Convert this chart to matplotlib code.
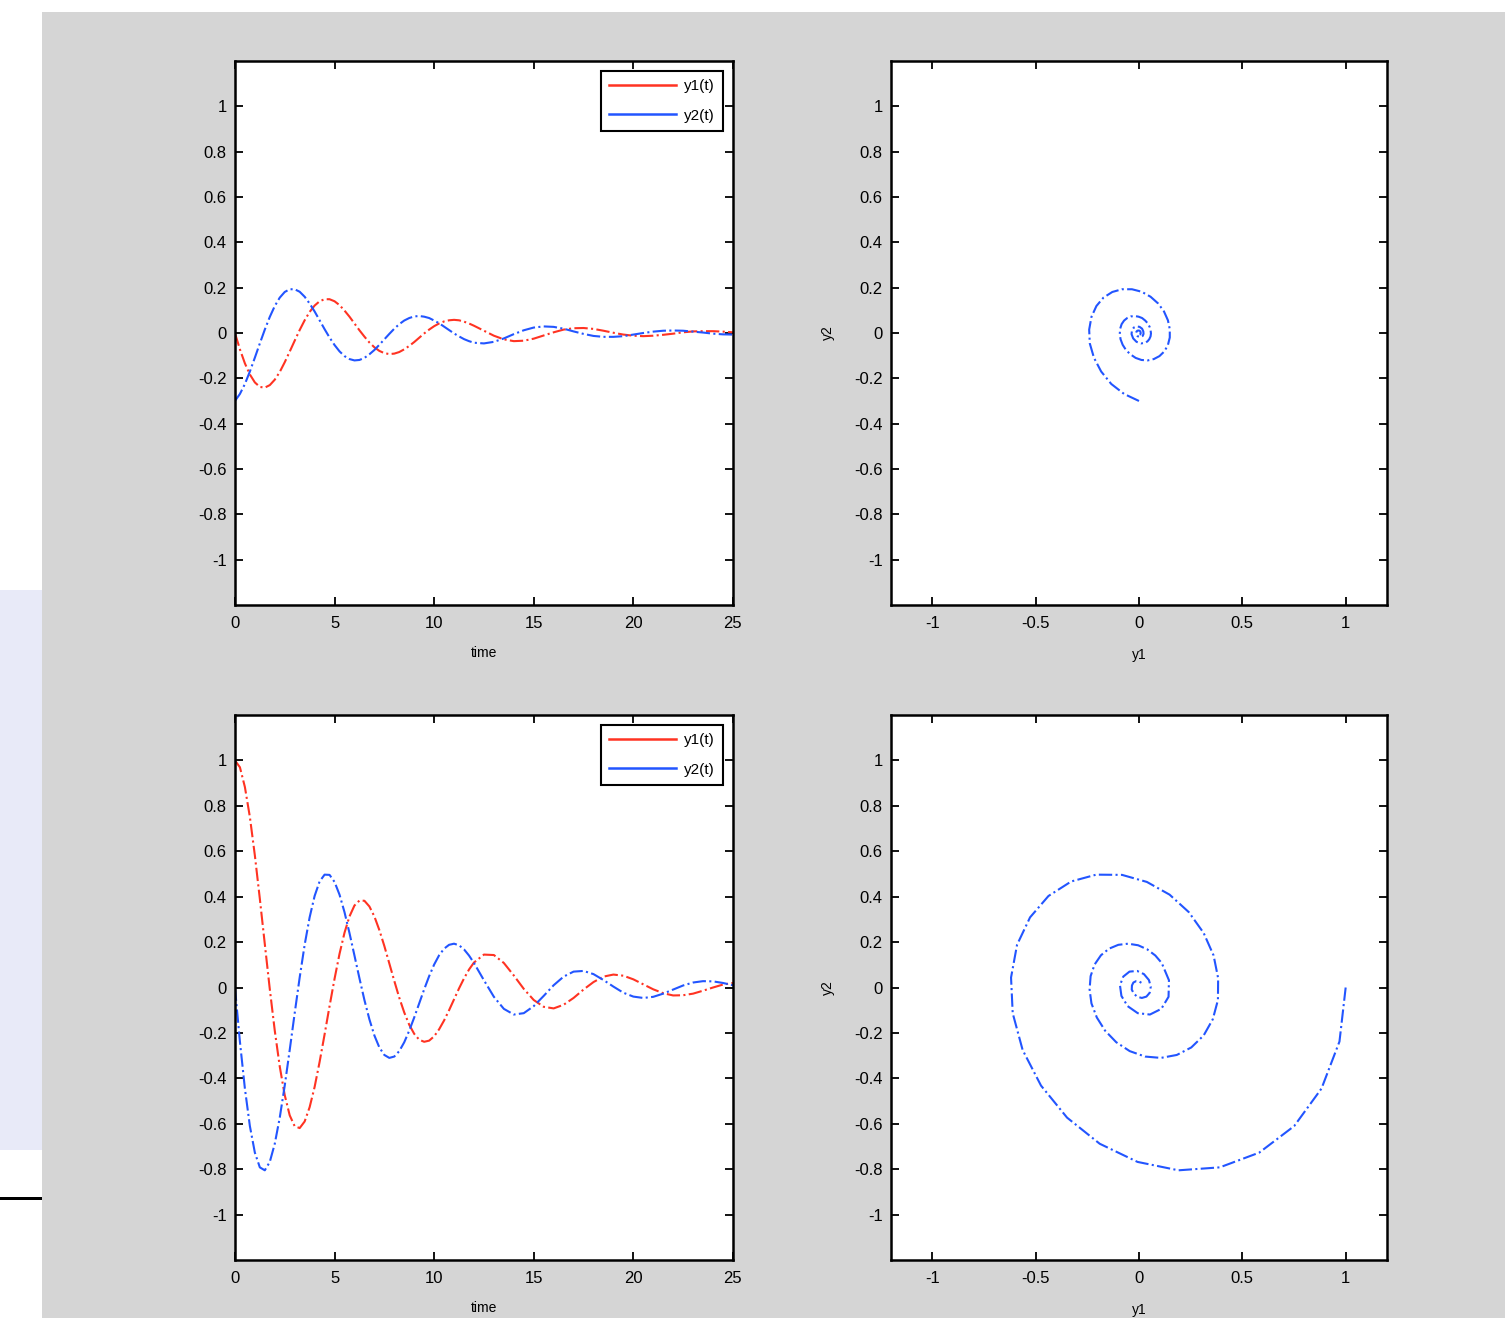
import matplotlib
matplotlib.use("Agg")
import matplotlib.pyplot as plt
from matplotlib.patches import Rectangle

plt.rcParams['font.family'] = ['Liberation Sans', 'DejaVu Sans']

# sample times
t = [0, 0.25, 0.5, 0.75, 1, 1.25, 1.5, 1.75, 2, 2.25, 2.5, 2.75, 3, 3.25, 3.5, 3.75,
     4, 4.25, 4.5, 4.75, 5, 5.25, 5.5, 5.75, 6, 6.25, 6.5, 6.75, 7, 7.25, 7.5, 7.75,
     8, 8.25, 8.5, 8.75, 9, 9.25, 9.5, 9.75, 10, 10.25, 10.5, 10.75, 11, 11.25, 11.5, 11.75,
     12, 12.5, 13, 13.5, 14, 14.5, 15, 15.5, 16, 16.5, 17, 17.5, 18, 18.5, 19, 19.5,
     20, 20.5, 21, 21.5, 22, 22.5, 23, 23.5, 24, 24.5, 25]

# case 1 (top row): y1(0)=0, y2(0)=-0.3
y1_top = [0, -0.072, -0.134, -0.183, -0.218, -0.238, -0.241, -0.230, -0.206, -0.172, -0.129, -0.082,
          -0.034, 0.013, 0.056, 0.093, 0.121, 0.140, 0.149, 0.149, 0.140, 0.123, 0.099, 0.072,
          0.042, 0.012, -0.016, -0.042, -0.063, -0.079, -0.089, -0.093, -0.091, -0.084, -0.072, -0.057,
          -0.040, -0.021, -0.002, 0.015, 0.030, 0.042, 0.051, 0.056, 0.058, 0.056, 0.050, 0.042,
          0.032, 0.010, -0.012, -0.028, -0.036, -0.034, -0.025, -0.011, 0.003, 0.015, 0.021, 0.022,
          0.018, 0.010, 0.001, -0.007, -0.012, -0.014, -0.012, -0.008, -0.003, 0.003, 0.007, 0.008,
          0.008, 0.006, 0.003]
y2_top = [-0.300, -0.269, -0.225, -0.170, -0.109, -0.046, 0.015, 0.071, 0.119, 0.156, 0.181, 0.193,
          0.193, 0.182, 0.160, 0.130, 0.095, 0.056, 0.017, -0.020, -0.053, -0.081, -0.102, -0.115,
          -0.121, -0.119, -0.110, -0.094, -0.075, -0.052, -0.028, -0.004, 0.019, 0.039, 0.055, 0.066,
          0.073, 0.075, 0.072, 0.066, 0.055, 0.043, 0.028, 0.013, -0.002, -0.015, -0.027, -0.036,
          -0.043, -0.046, -0.039, -0.024, -0.005, 0.012, 0.024, 0.029, 0.027, 0.019, 0.007, -0.004,
          -0.013, -0.017, -0.017, -0.014, -0.007, 0.000, 0.006, 0.010, 0.011, 0.010, 0.006, 0.002,
          -0.003, -0.006, -0.007]

# case 2 (bottom row): y1(0)=1, y2(0)=0
y1_bot = [1.000, 0.970, 0.883, 0.751, 0.582, 0.391, 0.191, -0.007, -0.190, -0.348, -0.474, -0.563,
          -0.611, -0.619, -0.590, -0.527, -0.438, -0.328, -0.207, -0.082, 0.038, 0.148, 0.241, 0.313,
          0.361, 0.383, 0.382, 0.357, 0.313, 0.253, 0.183, 0.106, 0.029, -0.045, -0.110, -0.164,
          -0.204, -0.230, -0.239, -0.234, -0.215, -0.184, -0.145, -0.100, -0.052, -0.004, 0.040, 0.079,
          0.110, 0.145, 0.143, 0.108, 0.053, -0.006, -0.055, -0.085, -0.092, -0.076, -0.046, -0.009,
          0.024, 0.048, 0.057, 0.052, 0.036, 0.014, -0.008, -0.025, -0.035, -0.034, -0.027, -0.014,
          0.000, 0.013, 0.020]
y2_bot = [0.000, -0.238, -0.445, -0.610, -0.727, -0.792, -0.805, -0.768, -0.688, -0.573, -0.432, -0.275,
          -0.113, 0.044, 0.188, 0.309, 0.403, 0.467, 0.497, 0.496, 0.465, 0.409, 0.332, 0.240,
          0.141, 0.041, -0.055, -0.140, -0.211, -0.264, -0.297, -0.310, -0.304, -0.280, -0.241, -0.190,
          -0.132, -0.070, -0.008, 0.050, 0.101, 0.142, 0.171, 0.188, 0.193, 0.186, 0.168, 0.141,
          0.108, 0.032, -0.041, -0.094, -0.119, -0.113, -0.082, -0.037, 0.010, 0.048, 0.070, 0.073,
          0.059, 0.033, 0.004, -0.023, -0.040, -0.046, -0.041, -0.027, -0.009, 0.009, 0.022, 0.028,
          0.027, 0.020, 0.010]

t_ticks = [0, 5, 10, 15, 20, 25]
y_ticks = [1, 0.8, 0.6, 0.4, 0.2, 0, -0.2, -0.4, -0.6, -0.8, -1]
y_ticklabels = ['1', '0.8', '0.6', '0.4', '0.2', '0', '-0.2', '-0.4', '-0.6', '-0.8', '-1']
p_ticks = [-1, -0.5, 0, 0.5, 1]
p_ticklabels = ['-1', '-0.5', '0', '0.5', '1']

RED = '#ff3322'
BLUE = '#2255ff'

fig = plt.figure(figsize=(15.05, 13.18), dpi=100, facecolor='white')
W, H = 1505, 1318

# background (screenshot frame)
bg = fig.add_axes([0, 0, 1, 1], zorder=-10)
bg.set_xlim(0, W)
bg.set_ylim(H, 0)
bg.axis('off')
bg.add_patch(Rectangle((42, 12), W - 42, H - 12, facecolor='#d5d5d5', edgecolor='none'))
bg.add_patch(Rectangle((0, 590), 42, 560, facecolor='#e8eaf8', edgecolor='none'))
bg.add_patch(Rectangle((0, 1197), 42, 3, facecolor='black', edgecolor='none'))


def style(ax):
    ax.set_facecolor('white')
    for s in ax.spines.values():
        s.set_linewidth(1.8)
    ax.tick_params(direction='in', top=True, right=True, length=6, width=1.3,
                   labelsize=12)
    ax.tick_params(axis='x', pad=8)
    ax.tick_params(axis='y', pad=6)
    ax.set_ylim(-1.2, 1.2)
    ax.set_yticks(y_ticks)
    ax.set_yticklabels(y_ticklabels)


def time_plot(ax, y1, y2):
    style(ax)
    ax.plot(t, y1, color=RED, linestyle='-.', linewidth=1.5, label='y1(t)')
    ax.plot(t, y2, color=BLUE, linestyle='-.', linewidth=1.5, label='y2(t)')
    ax.set_xlim(0, 25)
    ax.set_xticks(t_ticks)
    ax.set_xlabel('time', fontsize=10, labelpad=11)
    leg = ax.legend(loc='upper right', fontsize=11, handlelength=4.4, handletextpad=0.5,
                    fancybox=False, framealpha=1, edgecolor='black', borderaxespad=0.65,
                    borderpad=0.55, labelspacing=1.0)
    leg.get_frame().set_linewidth(1.5)
    for line in leg.get_lines():
        line.set_linestyle('-')
        line.set_linewidth(1.8)


def phase_plot(ax, y1, y2):
    style(ax)
    ax.plot(y1, y2, color=BLUE, linestyle='-.', linewidth=1.5)
    ax.set_xlim(-1.2, 1.2)
    ax.set_xticks(p_ticks)
    ax.set_xticklabels(p_ticklabels)
    ax.set_xlabel('y1', fontsize=10, labelpad=12)
    ax.set_ylabel('y2', fontsize=10, labelpad=14)


ax_tl = fig.add_axes([0.1561, 0.541, 0.3309, 0.4127])
ax_tr = fig.add_axes([0.5920, 0.541, 0.3296, 0.4127])
ax_bl = fig.add_axes([0.1561, 0.044, 0.3309, 0.4135])
ax_br = fig.add_axes([0.5920, 0.044, 0.3296, 0.4135])

time_plot(ax_tl, y1_top, y2_top)
phase_plot(ax_tr, y1_top, y2_top)
time_plot(ax_bl, y1_bot, y2_bot)
phase_plot(ax_br, y1_bot, y2_bot)

fig.savefig('out.png', dpi=100, facecolor=fig.get_facecolor())
